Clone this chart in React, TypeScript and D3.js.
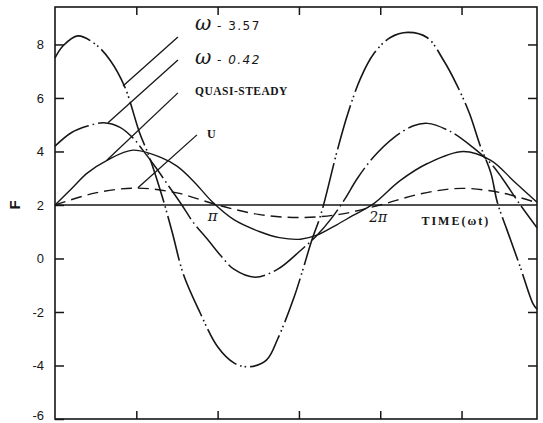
import React, { useEffect, useRef } from 'react';
import * as d3 from 'd3';

// time in units of pi (omega*t / pi)
const highT = [0, 0.05, 0.14, 0.25, 0.34, 0.43, 0.52, 0.58, 0.66, 0.72, 0.79, 0.89, 1.0, 1.1, 1.19, 1.3, 1.37, 1.47, 1.53, 1.58, 1.63, 1.66, 1.73, 1.8, 1.88, 1.96, 2.06, 2.17, 2.29, 2.39, 2.47, 2.55, 2.61, 2.68, 2.72, 2.78, 2.86, 2.94, 2.964];
const highF = [7.5, 7.95, 8.32, 8.0, 7.4, 6.4, 4.7, 3.8, 2.3, 1.0, -0.6, -2.0, -3.3, -3.9, -4.05, -3.8, -3.0, -1.45, -0.3, 0.7, 1.55, 2.2, 3.9, 5.4, 6.75, 7.65, 8.25, 8.45, 8.25, 7.4, 6.5, 5.4, 4.3, 3.2, 2.1, 1.06, -0.3, -1.7, -1.9];

const lowT = [0, 0.1, 0.2, 0.3, 0.4, 0.48, 0.54, 0.62, 0.7, 0.78, 0.85, 0.94, 1.02, 1.1, 1.23, 1.37, 1.51, 1.61, 1.7, 1.78, 1.86, 1.96, 2.08, 2.2, 2.29, 2.43, 2.57, 2.68, 2.75, 2.85, 2.964];
const lowF = [4.2, 4.7, 4.95, 5.07, 4.9, 4.5, 4.05, 3.4, 2.7, 2.0, 1.35, 0.7, 0.1, -0.4, -0.7, -0.4, 0.3, 0.86, 1.5, 2.2, 3.0, 3.8, 4.5, 4.95, 5.05, 4.75, 4.15, 3.55, 3.0, 2.1, 1.15];

const quasiT = [0, 0.1, 0.2, 0.32, 0.48, 0.65, 0.75, 0.85, 0.97, 1.1, 1.26, 1.38, 1.51, 1.61, 1.73, 1.83, 1.96, 2.12, 2.29, 2.51, 2.68, 2.82, 2.964];
const quasiF = [2.0, 2.6, 3.2, 3.67, 4.05, 3.78, 3.45, 2.9, 2.1, 1.45, 1.0, 0.78, 0.72, 0.87, 1.25, 1.6, 2.05, 2.9, 3.55, 4.0, 3.67, 2.9, 2.1];

const uT = [0, 0.25, 0.5, 0.75, 1.0, 1.25, 1.5, 1.75, 2.0, 2.25, 2.5, 2.75, 2.964];
const uF = [2.0, 2.45, 2.63, 2.45, 2.0, 1.65, 1.53, 1.65, 2.0, 2.42, 2.62, 2.45, 2.08];

const yTicks = [-6, -4, -2, 0, 2, 4, 6, 8];
const xTicks = [0.5, 1, 1.5, 2, 2.5];

// legend leaders: from (t0,f0) near label to (t1,f1) on curve
const leaders = [
    { t0: 0.756, f0: 8.28, t1: 0.418, f1: 6.45 },
    { t0: 0.756, f0: 7.42, t1: 0.326, f1: 5.07 },
    { t0: 0.756, f0: 6.19, t1: 0.32, f1: 3.68 },
    { t0: 0.873, f0: 4.62, t1: 0.51, f1: 2.64 },
];

const App = () => {
    const svgRef = useRef<SVGSVGElement>(null);

    useEffect(() => {
        const svg = d3.select(svgRef.current);
        svg.selectAll('*').remove();
        const width = 543;
        const height = 423;
        const margin = { top: 7, right: 6, bottom: 4, left: 55 };
        const ink = '#161616';

        const x = d3.scaleLinear().domain([0, 2.964]).range([margin.left, width - margin.right]);
        const y = d3.scaleLinear().domain([-6, 9.4]).range([height - margin.bottom, margin.top]);

        // frame
        svg.append('rect')
            .attr('x', x(0))
            .attr('y', y(9.4))
            .attr('width', x(2.964) - x(0))
            .attr('height', y(-6) - y(9.4))
            .attr('fill', 'none')
            .attr('stroke', ink)
            .attr('stroke-width', 1.6);

        const yAxis = svg.append('g')
            .attr('transform', `translate(${x(0)},0)`)
            .call(d3.axisLeft(y).tickValues(yTicks).tickSizeInner(-9).tickSizeOuter(0).tickPadding(11).tickFormat((d) => String(d)));
        yAxis.select('.domain').remove();
        yAxis.selectAll('line').attr('stroke', ink).attr('stroke-width', 1.5);
        yAxis.selectAll('text')
            .attr('fill', ink)
            .style('font-family', '"Liberation Sans", Arial, sans-serif')
            .style('font-size', '13px');
        // keep the lowest label inside the picture
        yAxis.selectAll('text').filter((d) => d === -6).attr('dy', '0.05em');

        const rAxis = svg.append('g')
            .attr('transform', `translate(${x(2.964)},0)`)
            .call(d3.axisRight(y).tickValues(yTicks.filter((d) => d > -6 && d !== 2)).tickSizeInner(-9).tickSizeOuter(0).tickFormat(() => ''));
        rAxis.select('.domain').remove();
        rAxis.selectAll('line').attr('stroke', ink).attr('stroke-width', 1.5);

        const bAxis = svg.append('g')
            .attr('transform', `translate(0,${y(-6)})`)
            .call(d3.axisBottom(x).tickValues(xTicks).tickSizeInner(-8).tickSizeOuter(0).tickFormat(() => ''));
        bAxis.select('.domain').remove();
        bAxis.selectAll('line').attr('stroke', ink).attr('stroke-width', 1.5);

        const tAxis = svg.append('g')
            .attr('transform', `translate(0,${y(9.4)})`)
            .call(d3.axisTop(x).tickValues(xTicks).tickSizeInner(-8).tickSizeOuter(0).tickFormat(() => ''));
        tAxis.select('.domain').remove();
        tAxis.selectAll('line').attr('stroke', ink).attr('stroke-width', 1.5);

        // time axis at F = 2
        svg.append('line')
            .attr('x1', x(0))
            .attr('x2', x(2.964))
            .attr('y1', y(2))
            .attr('y2', y(2))
            .attr('stroke', ink)
            .attr('stroke-width', 1.5);

        const line = d3.line<[number, number]>()
            .x((d) => x(d[0]))
            .y((d) => y(d[1]))
            .curve(d3.curveCatmullRom.alpha(0.5));

        const series = [
            { t: uT, f: uF, dash: '11,6', w: 1.4 },
            { t: quasiT, f: quasiF, dash: null, w: 1.4 },
            { t: lowT, f: lowF, dash: '40,4,1.6,4', w: 1.5 },
            { t: highT, f: highF, dash: '46,4,1.6,3,1.6,4', w: 1.6 },
        ];

        series.forEach((s) => {
            const pts = s.t.map((t, i) => [t, s.f[i]] as [number, number]);
            svg.append('path')
                .attr('d', line(pts))
                .attr('fill', 'none')
                .attr('stroke', ink)
                .attr('stroke-width', s.w)
                .attr('stroke-dasharray', s.dash);
        });

        leaders.forEach((l) => {
            svg.append('line')
                .attr('x1', x(l.t0))
                .attr('y1', y(l.f0))
                .attr('x2', x(l.t1))
                .attr('y2', y(l.f1))
                .attr('stroke', ink)
                .attr('stroke-width', 1.3);
        });

        // legend labels
        const omegaLabel = (fy: number, value: string, italic: boolean) => {
            svg.append('text')
                .attr('x', x(0.861))
                .attr('y', y(fy))
                .attr('fill', ink)
                .style('font-family', '"DejaVu Serif", serif')
                .style('font-style', 'italic')
                .style('font-size', '20px')
                .text('ω');
            svg.append('text')
                .attr('x', x(0.861) + 22)
                .attr('y', y(fy))
                .attr('fill', ink)
                .style('font-family', '"DejaVu Sans", sans-serif')
                .style('font-size', '12px')
                .style('font-style', italic ? 'italic' : 'normal')
                .style('letter-spacing', '1.5px')
                .text(`-  ${value}`);
        };
        omegaLabel(8.54, '3.57', false);
        omegaLabel(7.27, '0.42', true);

        svg.append('text')
            .attr('x', x(0.861))
            .attr('y', y(6.11))
            .attr('fill', ink)
            .style('font-family', '"Liberation Serif", serif')
            .style('font-weight', 'bold')
            .style('font-size', '11.5px')
            .style('letter-spacing', '0.5px')
            .text('QUASI-STEADY');

        svg.append('text')
            .attr('x', x(0.935))
            .attr('y', y(4.5))
            .attr('fill', ink)
            .style('font-family', '"Liberation Serif", serif')
            .style('font-weight', 'bold')
            .style('font-size', '12px')
            .text('U');

        // time axis labels
        svg.append('text')
            .attr('x', x(1) - 5)
            .attr('y', y(2) + 16)
            .attr('text-anchor', 'middle')
            .attr('fill', ink)
            .style('font-family', '"DejaVu Serif", serif')
            .style('font-style', 'italic')
            .style('font-size', '15px')
            .text('π');

        svg.append('text')
            .attr('x', x(2) - 2)
            .attr('y', y(2) + 17)
            .attr('text-anchor', 'middle')
            .attr('fill', ink)
            .style('font-family', '"DejaVu Serif", serif')
            .style('font-style', 'italic')
            .style('font-size', '14px')
            .text('2π');

        svg.append('text')
            .attr('x', x(2.253))
            .attr('y', y(2) + 20)
            .attr('fill', ink)
            .style('font-family', '"Liberation Serif", serif')
            .style('font-weight', 'bold')
            .style('font-size', '12px')
            .style('letter-spacing', '2px')
            .text('TIME(ωt)');

        // y axis label
        svg.append('text')
            .attr('transform', `translate(20,${y(2)}) rotate(-90)`)
            .attr('text-anchor', 'middle')
            .attr('fill', ink)
            .style('font-family', '"Liberation Sans", Arial, sans-serif')
            .style('font-weight', 'bold')
            .style('font-size', '15px')
            .text('F');
    }, []);

    return (
        <svg
            ref={svgRef}
            width={543}
            height={423}
            style={{ position: 'absolute', left: 0, top: 0, background: '#fff' }}
        />
    );
};

export default App;
